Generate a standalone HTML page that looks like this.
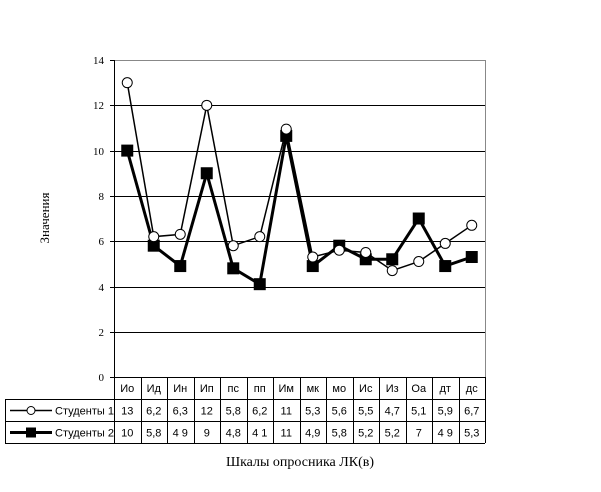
<!DOCTYPE html>
<html><head><meta charset="utf-8"><style>body{margin:0;background:#fff}</style></head><body>
<svg width="601" height="487" xmlns="http://www.w3.org/2000/svg" font-family="Liberation Sans, sans-serif">
<rect width="601" height="487" fill="#fff"/>
<g stroke="#000" stroke-width="1">
<line x1="114" y1="60.5" x2="485" y2="60.5" stroke="#888"/>
<line x1="114" y1="105.5" x2="485" y2="105.5"/>
<line x1="114" y1="151.5" x2="485" y2="151.5"/>
<line x1="114" y1="196.5" x2="485" y2="196.5"/>
<line x1="114" y1="241.5" x2="485" y2="241.5"/>
<line x1="114" y1="287.5" x2="485" y2="287.5"/>
<line x1="114" y1="332.5" x2="485" y2="332.5"/>
<line x1="485.5" y1="60" x2="485.5" y2="377" stroke="#888"/>
<line x1="114.5" y1="60" x2="114.5" y2="443"/>
<line x1="110" y1="60.5" x2="114" y2="60.5"/>
<line x1="110" y1="105.5" x2="114" y2="105.5"/>
<line x1="110" y1="151.5" x2="114" y2="151.5"/>
<line x1="110" y1="196.5" x2="114" y2="196.5"/>
<line x1="110" y1="241.5" x2="114" y2="241.5"/>
<line x1="110" y1="287.5" x2="114" y2="287.5"/>
<line x1="110" y1="332.5" x2="114" y2="332.5"/>
<line x1="110" y1="377.5" x2="485" y2="377.5"/>
</g>
<g font-family="Liberation Serif, serif" font-size="11" text-anchor="end">
<text x="104" y="64">14</text><text x="104" y="109">12</text><text x="104" y="155">10</text>
<text x="104" y="200">8</text><text x="104" y="245">6</text><text x="104" y="291">4</text>
<text x="104" y="336">2</text><text x="104" y="381">0</text>
</g>
<text x="0" y="0" transform="translate(49,218) rotate(-90)" text-anchor="middle" font-family="Liberation Serif, serif" font-size="13">Значения</text>
<!-- table -->
<g stroke="#000" stroke-width="1">
<line x1="5" y1="399.5" x2="485" y2="399.5"/>
<line x1="5" y1="421.5" x2="485" y2="421.5"/>
<line x1="5" y1="443.5" x2="485" y2="443.5"/>
<line x1="5.5" y1="399" x2="5.5" y2="443"/>
<line x1="485.5" y1="377" x2="485.5" y2="443"/>
</g>
<g id="cols" stroke="#000"></g>
<polyline id="s1" fill="none" stroke="#000" stroke-width="1.5"/>
<polyline id="s2" fill="none" stroke="#000" stroke-width="3"/>
<g id="m"></g>
<g id="tx" font-size="11" text-anchor="middle"></g>
<line x1="10" y1="410.5" x2="52" y2="410.5" stroke="#000" stroke-width="1.5"/>
<circle cx="31" cy="410.5" r="4" fill="#fff" stroke="#000"/>
<text x="55" y="414.5" font-size="11">Студенты 1</text>
<line x1="10" y1="432.5" x2="52" y2="432.5" stroke="#000" stroke-width="3"/>
<rect x="26" y="427.5" width="10" height="10" fill="#000"/>
<text x="55" y="436.5" font-size="11">Студенты 2</text>
<text x="300" y="466" text-anchor="middle" font-family="Liberation Serif, serif" font-size="14">Шкалы опросника ЛК(в)</text>
</svg>
<script>
var cats=["Ио","Ид","Ин","Ип","пс","пп","Им","мк","мо","Ис","Из","Оа","дт","дс"];
var a=[13,6.2,6.3,12,5.8,6.2,10.95,5.3,5.6,5.5,4.7,5.1,5.9,6.7];
var b=[10,5.8,4.9,9,4.8,4.1,10.65,4.9,5.8,5.2,5.2,7,4.9,5.3];
var la=["13","6,2","6,3","12","5,8","6,2","11","5,3","5,6","5,5","4,7","5,1","5,9","6,7"];
var lb=["10","5,8","4 9","9","4,8","4 1","11","4,9","5,8","5,2","5,2","7","4 9","5,3"];
var ns="http://www.w3.org/2000/svg",w=26.5,x0=114;
function el(t,at,p,txt){var e=document.createElementNS(ns,t);for(var k in at)e.setAttribute(k,at[k]);if(txt)e.textContent=txt;document.getElementById(p).appendChild(e);}
var pa=[],pb=[];
for(var i=0;i<14;i++){var cx=x0+w/2+w*i;
 if(i>0)el("line",{x1:Math.round(x0+w*i)+.5,y1:377,x2:Math.round(x0+w*i)+.5,y2:443},"cols");
 var ya=377-a[i]*22.64,yb=377-b[i]*22.64;pa.push(cx+","+ya);pb.push(cx+","+yb);
 el("text",{x:cx,y:392},"tx",cats[i]);el("text",{x:cx,y:414.5},"tx",la[i]);el("text",{x:cx,y:436.5},"tx",lb[i]);}
document.getElementById("s1").setAttribute("points",pa.join(" "));
document.getElementById("s2").setAttribute("points",pb.join(" "));
for(var i=0;i<14;i++){var cx=x0+w/2+w*i;
 el("rect",{x:cx-6,y:377-b[i]*22.64-6,width:12,height:12,fill:"#000"},"m");
 el("circle",{cx:cx,cy:377-a[i]*22.64,r:5,fill:"#fff",stroke:"#000"},"m");}
</script>
</body></html>
